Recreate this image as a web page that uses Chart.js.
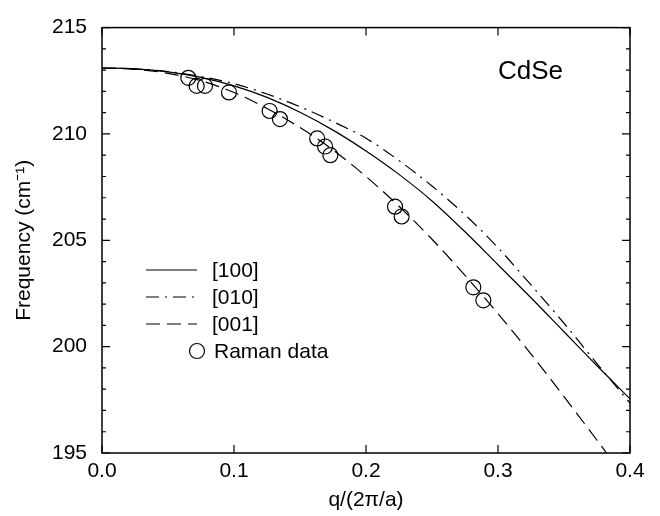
<!DOCTYPE html>
<html>
<head>
<meta charset="utf-8">
<script src="https://cdn.jsdelivr.net/npm/chart.js@4.4.1/dist/chart.umd.min.js"></script>
<style>
  html, body { margin: 0; padding: 0; background: #fff; }
</style>
</head>
<body>
<canvas id="myChart" width="660" height="516"></canvas>
<script>
// wave vector grid, q/(2pi/a)
const qGrid = [0, 0.025, 0.05, 0.075, 0.1, 0.125, 0.15, 0.175, 0.2, 0.225, 0.25, 0.275, 0.3, 0.325, 0.35, 0.375, 0.4];
// calculated LO frequencies (cm-1) along each direction
const freq100 = [213.10, 213.06, 212.92, 212.66, 212.26, 211.72, 211.02, 210.18, 209.2, 208.1, 206.85, 205.4, 203.85, 202.3, 200.7, 199.1, 197.55];
const freq010 = [213.10, 213.06, 212.93, 212.70, 212.36, 211.88, 211.28, 210.58, 209.8, 208.75, 207.55, 206.2, 204.65, 202.9, 201.1, 199.2, 197.35];
const freq001 = [213.10, 213.04, 212.85, 212.5, 211.95, 211.2, 210.3, 209.25, 208.0, 206.6, 205.05, 203.35, 201.55, 199.65, 197.65, 195.6, 193.5];
// Raman points
const ramanQ = [0.0654, 0.0717, 0.078, 0.0962, 0.127, 0.1348, 0.163, 0.169, 0.173, 0.222, 0.227, 0.2813, 0.2889];
const ramanFreq = [212.64, 212.26, 212.26, 211.95, 211.08, 210.7, 209.79, 209.41, 209.0, 206.58, 206.12, 202.79, 202.18];

const xTicks = [0, 0.1, 0.2, 0.3, 0.4];
const yTicks = [195, 200, 205, 210, 215];
const yMinorStep = 1;

const FONT = '"Liberation Sans", Arial, Helvetica, sans-serif';
Chart.defaults.font.family = FONT;
Chart.defaults.color = '#000';

const toPoints = (xs, ys) => xs.map((x, i) => ({ x: x, y: ys[i] }));

const lineSet = (label, ys, dash) => ({
    label: label,
    data: toPoints(qGrid, ys),
    showLine: true,
    borderColor: '#000',
    borderWidth: 1.2,
    borderDash: dash,
    pointRadius: 0,
    cubicInterpolationMode: 'monotone',
    fill: false
});

// frame, inside ticks, legend and the CdSe label
const decorations = {
    id: 'decorations',
    afterDraw(chart) {
        const { ctx, chartArea: a, scales: { x, y } } = chart;
        ctx.save();
        ctx.strokeStyle = '#000';
        ctx.lineWidth = 1.5;
        ctx.strokeRect(a.left, a.top, a.right - a.left, a.bottom - a.top);

        ctx.lineWidth = 1.2;
        ctx.beginPath();
        xTicks.forEach(v => {
            const px = x.getPixelForValue(v);
            ctx.moveTo(px, a.bottom); ctx.lineTo(px, a.bottom - 8);
            ctx.moveTo(px, a.top); ctx.lineTo(px, a.top + 8);
        });
        for (let v = yTicks[0]; v <= yTicks[yTicks.length - 1]; v += yMinorStep) {
            const py = y.getPixelForValue(v);
            const len = yTicks.includes(v) ? 8 : 4;
            ctx.moveTo(a.left, py); ctx.lineTo(a.left + len, py);
            ctx.moveTo(a.right, py); ctx.lineTo(a.right - len, py);
        }
        ctx.stroke();

        // legend
        ctx.font = '21px ' + FONT;
        ctx.textBaseline = 'middle';
        ctx.fillStyle = '#000';
        const x0 = 146, x1 = 197, tx = 212;
        let ly = 270;
        chart.data.datasets.forEach(ds => {
            ctx.save();
            if (ds.showLine) {
                ctx.setLineDash(ds.borderDash || []);
                ctx.lineWidth = 1.2;
                ctx.beginPath();
                ctx.moveTo(x0, ly); ctx.lineTo(x1, ly);
                ctx.stroke();
            } else {
                ctx.lineWidth = 1.2;
                ctx.beginPath();
                ctx.arc(x1, ly, 7.5, 0, Math.PI * 2);
                ctx.stroke();
            }
            ctx.restore();
            ctx.fillText(ds.label, ds.showLine ? tx : tx + 2, ly + 1);
            ly += 27;
        });

        ctx.font = '26px ' + FONT;
        ctx.fillText('CdSe', 498, 72);
        ctx.restore();
    }
};

new Chart(document.getElementById('myChart').getContext('2d'), {
    type: 'scatter',
    data: {
        datasets: [
            lineSet('[100]', freq100, []),
            lineSet('[010]', freq010, [13, 6, 2, 6]),
            lineSet('[001]', freq001, [14, 7]),
            {
                label: 'Raman data',
                data: toPoints(ramanQ, ramanFreq),
                showLine: false,
                pointStyle: 'circle',
                pointRadius: 7.5,
                pointBorderWidth: 1.2,
                pointBorderColor: '#000',
                pointBackgroundColor: 'rgba(0,0,0,0)'
            }
        ]
    },
    options: {
        responsive: false,
        animation: false,
        layout: { padding: { left: 0, right: 30, top: 13, bottom: 0 } },
        plugins: {
            legend: { display: false },
            tooltip: { enabled: false }
        },
        scales: {
            x: {
                type: 'linear',
                min: 0,
                max: 0.4,
                afterBuildTicks: s => { s.ticks = xTicks.map(v => ({ value: v })); },
                afterFit: s => { s.height = 63; },
                grid: { display: false, drawTicks: false },
                border: { display: false },
                ticks: {
                    padding: 6,
                    font: { size: 21 },
                    callback: v => v.toFixed(1),
                    maxRotation: 0
                },
                title: {
                    display: true,
                    text: 'q/(2\u03c0/a)',
                    font: { size: 21 },
                    padding: { top: 0, bottom: 3 }
                }
            },
            y: {
                type: 'linear',
                min: 195,
                max: 215,
                afterBuildTicks: s => { s.ticks = yTicks.map(v => ({ value: v })); },
                afterFit: s => { s.width = 102; },
                grid: { display: false, drawTicks: false },
                border: { display: false },
                ticks: {
                    padding: 15,
                    font: { size: 21 }
                },
                title: {
                    display: true,
                    text: 'Frequency (cm\u207b\u00b9)',
                    font: { size: 21 },
                    padding: { top: 12, bottom: 0 }
                }
            }
        }
    },
    plugins: [decorations]
});
</script>
</body>
</html>
